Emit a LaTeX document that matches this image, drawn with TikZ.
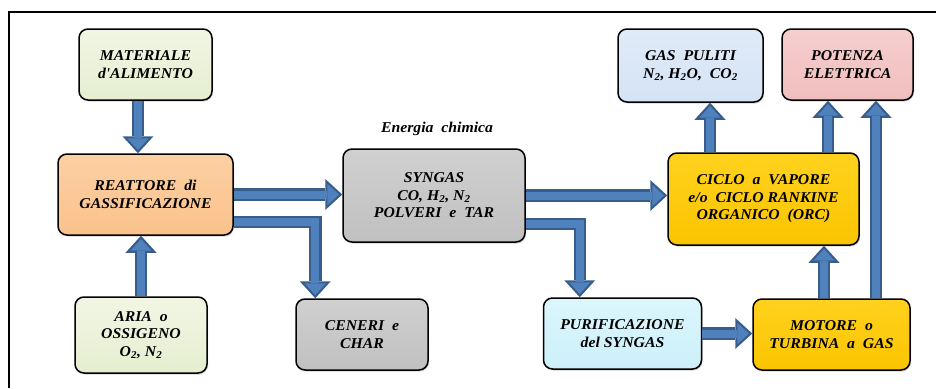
\documentclass[tikz,border=0pt]{standalone}
\usepackage{fontspec}
\setmainfont{Liberation Serif}[FakeStretch=1.05]
\usetikzlibrary{arrows.meta,calc,shadows}
\definecolor{arrdark}{HTML}{385D8A}
\definecolor{arrfill}{HTML}{4F81BD}
\begin{document}
\begin{tikzpicture}[x=1pt,y=-1pt,
  box/.style={draw=black,line width=1.5pt,rounded corners=9pt,align=center,
    inner sep=2pt,font=\bfseries\itshape\fontsize{15}{17.5}\selectfont,
    drop shadow={shadow xshift=1pt,shadow yshift=-1.5pt,opacity=0.35}},
  green/.style={top color={rgb,255:red,241;green,246;blue,228}, bottom color={rgb,255:red,230;green,238;blue,208}},
  peach/.style={top color={rgb,255:red,252;green,208;blue,162}, bottom color={rgb,255:red,250;green,194;blue,140}},
  grey/.style={top color={rgb,255:red,208;green,208;blue,208}, bottom color={rgb,255:red,192;green,192;blue,192}},
  cyanbox/.style={top color={rgb,255:red,220;green,246;blue,252}, bottom color={rgb,255:red,204;green,240;blue,250}},
  gold/.style={top color={rgb,255:red,255;green,210;blue,30}, bottom color={rgb,255:red,250;green,196;blue,0}},
  lblue/.style={top color={rgb,255:red,224;green,235;blue,248}, bottom color={rgb,255:red,212;green,227;blue,244}},
  pink/.style={top color={rgb,255:red,246;green,206;blue,206}, bottom color={rgb,255:red,240;green,190;blue,190}},
  blockarrow/.style={
    preaction={draw=arrdark,line width=12.5pt,shorten >=0pt,
      -{Triangle[width=31pt,length=17pt,line width=0pt]}},
    draw=arrfill,line width=8pt,shorten >=3.3pt,
    -{Triangle[width=21pt,length=11.5pt,line width=0pt]}},
  lbl/.style={font=\bfseries\itshape\fontsize{15}{17.5}\selectfont}
]
\useasboundingbox (0,0) rectangle (936,388);
\draw[line width=2pt] (936,12) -- (9,12) -- (9,388);

\node[box,green,minimum width=133pt,minimum height=71pt] (mat) at (145.5,64.5) {MATERIALE\\d\textquotesingle ALIMENTO};
\node[box,peach,minimum width=175pt,minimum height=81pt] (reat) at (145.5,194.5) {REATTORE\ \ di\\GASSIFICAZIONE};
\node[box,green,minimum width=132pt,minimum height=76pt] (aria) at (141,335) {ARIA\ \ o\\OSSIGENO\\O\textsubscript{2}, N\textsubscript{2}};
\node[box,grey,minimum width=182pt,minimum height=93pt] (syn) at (434,195.5) {SYNGAS\\CO, H\textsubscript{2}, N\textsubscript{2}\\POLVERI\ \ e\ \ TAR};
\node[lbl] (en) at (437,129) {Energia\ \ chimica};
\node[box,grey,minimum width=132pt,minimum height=71pt] (cen) at (362,334.5) {CENERI\ \ e\\CHAR};
\node[box,cyanbox,minimum width=158pt,minimum height=71pt] (pur) at (622.5,333.5) {PURIFICAZIONE\\del SYNGAS};
\node[box,gold,minimum width=157pt,minimum height=71pt] (mot) at (831.5,334.5) {MOTORE\ \ o\\TURBINA\ \ a\ \ GAS};
\node[box,gold,minimum width=191pt,minimum height=92pt] (ciclo) at (763.5,199) {CICLO\ \ a\ \ VAPORE\\e/o\ \ CICLO RANKINE\\ORGANICO\ \ (ORC)};
\node[box,lblue,minimum width=145pt,minimum height=73pt] (gas) at (690.5,65.5) {GAS\ \ PULITI\\N\textsubscript{2}, H\textsubscript{2}O,\ \ CO\textsubscript{2}};
\node[box,pink,minimum width=131pt,minimum height=71pt] (pot) at (847.5,64.5) {POTENZA\\ELETTRICA};

\draw[blockarrow] ($(mat.south)+(-7.5,0)$) -- ($(reat.north)+(-7.5,0)$);
\draw[blockarrow] (aria.north) -- (aria.north |- reat.south);
\draw[blockarrow] (reat.east) -- (reat.east -| syn.west);
\draw[blockarrow] ($(reat.east)+(0,27.5)$) -| ($(cen.north west)+(20,0)$);
\draw[blockarrow] (syn.east) -- (syn.east -| ciclo.west);
\draw[blockarrow] ($(syn.east)+(0,28.5)$) -| ($(pur.north west)+(37,0)$);
\draw[blockarrow] (pur.east) -- (pur.east -| mot.west);
\draw[blockarrow] ($(mot.north)+(-7.5,0)$) -- ($(mot.north |- ciclo.south)+(-7.5,0)$);
\draw[blockarrow] ($(mot.north)+(44.5,0)$) -- ($(mot.north |- pot.south)+(44.5,0)$);
\draw[blockarrow] ($(ciclo.north)+(-53.5,0)$) -- ($(ciclo.north |- gas.south)+(-53.5,0)$);
\draw[blockarrow] ($(ciclo.north)+(64.5,0)$) -- ($(ciclo.north |- pot.south)+(64.5,0)$);
\end{tikzpicture}
\end{document}
